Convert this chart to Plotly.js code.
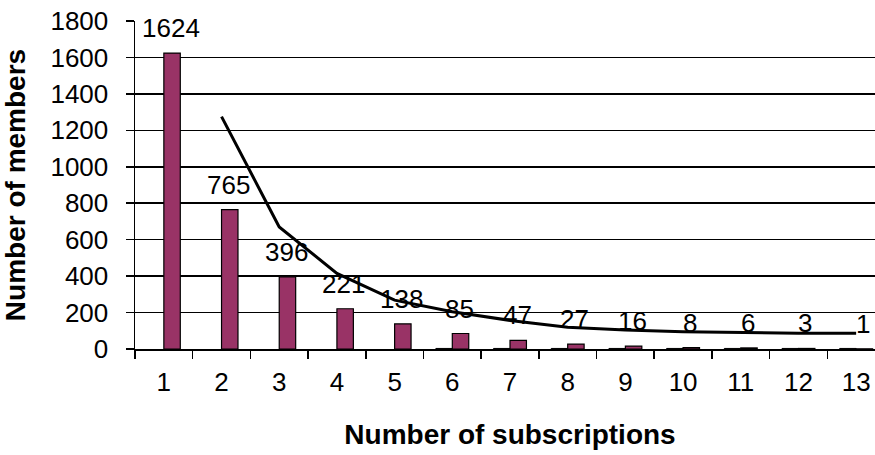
<!DOCTYPE html>
<html>
<head>
<meta charset="utf-8">
<script src="https://cdn.plot.ly/plotly-3.0.1.min.js"></script>
<style>
  html, body { margin: 0; padding: 0; overflow: hidden; background: #ffffff; }
  #chart { width: 890px; height: 455px; }
</style>
</head>
<body>
<div id="chart"></div>
<script>
// Number of subscriptions per member
const subscriptions = ['1', '2', '3', '4', '5', '6', '7', '8', '9', '10', '11', '12', '13'];
const members = [1624, 765, 396, 221, 138, 85, 47, 27, 16, 8, 6, 3, 1];
// Small companion series drawn just left of each main bar
const secondary = [null, null, null, null, null, 3, 3, 3, 3, 3, 3, 3, 3];
// Trend curve, starting at the second category
const trendX = ['2', '3', '4', '5', '6', '7', '8', '9', '10', '11', '12', '13'];
const trendY = [1275, 670, 415, 268, 204, 157, 119, 104, 95, 90, 87, 86];

const FONT = 'Liberation Sans, Arial, sans-serif';

const traces = [
  {
    type: 'bar',
    x: subscriptions,
    y: secondary,
    marker: { color: '#9999ff', line: { color: '#000000', width: 1 } },
    hoverinfo: 'skip'
  },
  {
    type: 'bar',
    x: subscriptions,
    y: members,
    marker: { color: '#993366', line: { color: '#000000', width: 1.2 } }
  },
  {
    type: 'scatter',
    mode: 'lines',
    x: trendX,
    y: trendY,
    line: { color: '#000000', width: 3 },
    hoverinfo: 'skip'
  }
];

// Value labels above the main bars (category axis positions are indices)
const annotations = subscriptions.map((c, i) => ({
  x: i,
  y: members[i],
  xref: 'x',
  yref: 'y',
  text: String(members[i]),
  showarrow: false,
  xshift: 7,
  yshift: 25,
  font: { family: FONT, size: 26, color: '#000000' }
}));

const layout = {
  width: 890,
  height: 455,
  margin: { l: 135, r: 5, t: 21, b: 106 },
  paper_bgcolor: '#ffffff',
  plot_bgcolor: '#ffffff',
  showlegend: false,
  barmode: 'group',
  bargap: 0.43,
  bargroupgap: 0,
  font: { family: FONT, size: 26, color: '#000000' },
  xaxis: {
    type: 'category',
    range: [-0.5, subscriptions.length - 0.5],
    showgrid: false,
    showline: true,
    linecolor: '#000000',
    linewidth: 1.5,
    ticks: 'outside',
    tickson: 'boundaries',
    ticklen: 8,
    tickwidth: 1.5,
    tickcolor: '#000000',
    ticklabelstandoff: 9,
    tickfont: { family: FONT, size: 26, color: '#000000' },
    title: {
      text: 'Number of subscriptions',
      font: { family: FONT, size: 28, color: '#000000', weight: 'bold' },
      standoff: 28
    }
  },
  yaxis: {
    range: [0, 1800],
    dtick: 200,
    showgrid: true,
    gridcolor: '#000000',
    gridwidth: 1.5,
    zeroline: false,
    showline: true,
    linecolor: '#000000',
    linewidth: 1.5,
    ticks: 'outside',
    ticklen: 8,
    tickwidth: 1.5,
    tickcolor: '#000000',
    ticklabelstandoff: 12,
    tickfont: { family: FONT, size: 26, color: '#000000' },
    title: {
      text: 'Number of members',
      font: { family: FONT, size: 28, color: '#000000', weight: 'bold' },
      standoff: 16
    }
  },
  annotations: annotations
};

Plotly.newPlot('chart', traces, layout, { displayModeBar: false, staticPlot: true });
</script>
</body>
</html>
